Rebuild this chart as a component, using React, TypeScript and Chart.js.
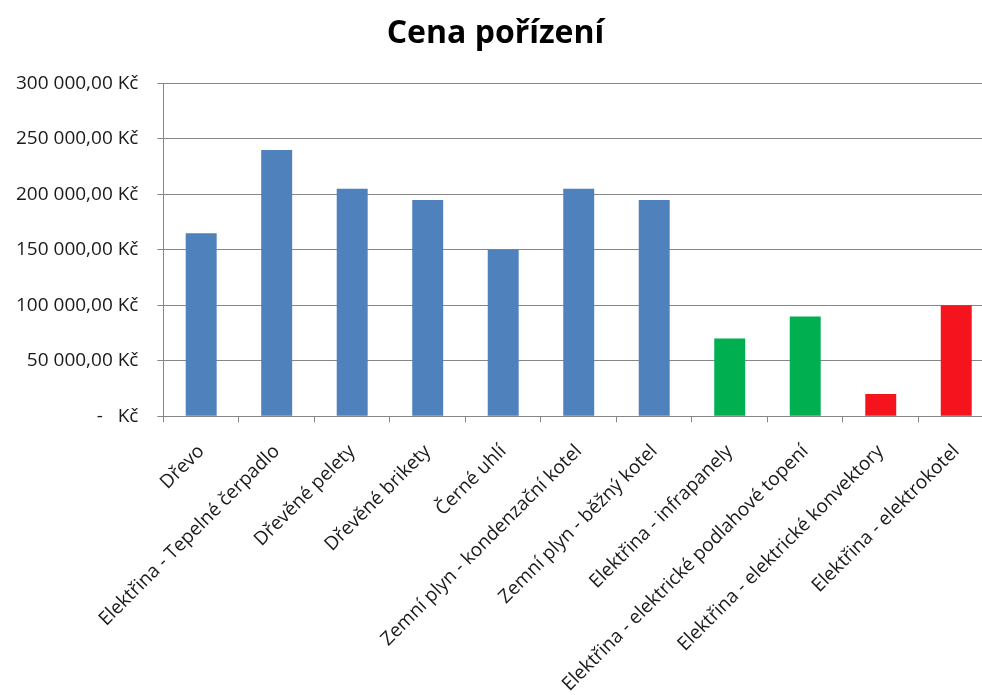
import React, { useEffect, useRef } from "react";
import { Chart, registerables } from "chart.js";

Chart.register(...registerables);

const categories = [
  "Dřevo",
  "Elektřina - Tepelné čerpadlo",
  "Dřevěné pelety",
  "Dřevěné brikety",
  "Černé uhlí",
  "Zemní plyn - kondenzační kotel",
  "Zemní plyn - běžný kotel",
  "Elektřina - infrapanely",
  "Elektřina - elektrické podlahové topení",
  "Elektřina - elektrické konvektory",
  "Elektřina - elektrokotel",
];

const prices = [165000, 240000, 205000, 195000, 150000, 205000, 195000, 70000, 90000, 20000, 100000];

const yTickLabels = [
  "-   Kč",
  "50 000,00 Kč",
  "100 000,00 Kč",
  "150 000,00 Kč",
  "200 000,00 Kč",
  "250 000,00 Kč",
  "300 000,00 Kč",
];

const BLUE = "#4F81BD";
const GREEN = "#00B050";
const RED = "#F5141E";
const barColors = [BLUE, BLUE, BLUE, BLUE, BLUE, BLUE, BLUE, GREEN, GREEN, RED, RED];

export default function App() {
  const canvasRef = useRef<HTMLCanvasElement | null>(null);

  useEffect(() => {
    if (!canvasRef.current) return;
    const font = "'Open Sans', 'DejaVu Sans', sans-serif";
    const chart = new Chart(canvasRef.current, {
      type: "bar",
      data: {
        labels: categories,
        datasets: [
          {
            label: "Cena pořízení",
            data: prices,
            backgroundColor: barColors,
            borderWidth: 0,
            categoryPercentage: 1,
            barPercentage: 0.41,
          },
        ],
      },
      options: {
        responsive: false,
        animation: false,
        layout: { padding: { left: -3, right: 6, top: 0, bottom: -19 } },
        plugins: {
          legend: { display: false },
          tooltip: { enabled: false },
          title: {
            display: true,
            text: "Cena pořízení",
            color: "#000",
            font: { family: font, size: 32, weight: "bold" },
            padding: { top: 15, bottom: 30 },
          },
        },
        scales: {
          x: {
            offset: true,
            grid: {
              offset: true,
              drawOnChartArea: false,
              drawTicks: true,
              tickLength: 6,
              color: "#868686",
            },
            border: { display: true, color: "#868686" },
            ticks: {
              autoSkip: false,
              minRotation: 45,
              maxRotation: 45,
              color: "#1a1a1a",
              padding: 18,
              font: { family: font, size: 19 },
            },
          },
          y: {
            min: 0,
            max: 300000,
            grid: {
              color: "#868686",
              drawTicks: true,
              tickLength: 6,
            },
            border: { display: true, color: "#868686" },
            ticks: {
              stepSize: 50000,
              color: "#1a1a1a",
              padding: 19,
              font: { family: font, size: 19 },
              callback: (_v: any, i: number) => yTickLabels[i],
            },
          },
        },
      },
    });
    return () => chart.destroy();
  }, []);

  return (
    <div
      style={{
        position: "fixed",
        left: 0,
        top: 0,
        width: 982,
        height: 695,
        overflow: "hidden",
        background: "#fff",
      }}
    >
      <canvas ref={canvasRef} width={1000} height={695} style={{ display: "block" }} />
    </div>
  );
}
